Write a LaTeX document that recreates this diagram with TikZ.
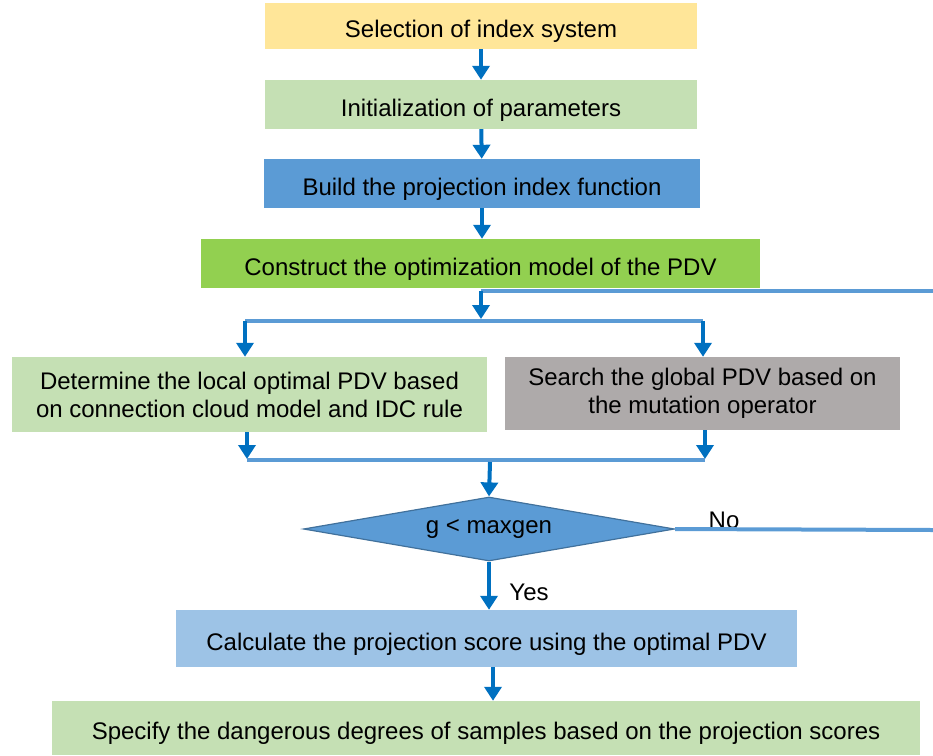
\documentclass[tikz,border=0pt]{standalone}
\usepackage{fontspec}
\setmainfont{Liberation Sans}
\usetikzlibrary{shapes.geometric,arrows.meta}
\definecolor{cYel}{HTML}{FFE699}
\definecolor{cLGreen}{HTML}{C5E0B4}
\definecolor{cBlue}{HTML}{5B9BD5}
\definecolor{cGreen}{HTML}{92D050}
\definecolor{cGray}{HTML}{AEAAAA}
\definecolor{cLBlue}{HTML}{9DC3E6}
\definecolor{cArr}{HTML}{0070C0}
\definecolor{cDiaB}{HTML}{41719C}
\begin{document}
\begin{tikzpicture}[x=1pt,y=-1pt,
  fbox/.style={draw=none,inner sep=0pt,align=center,text=black,
    font=\fontsize{24}{28}\selectfont},
  onel/.style={text height=25pt,text depth=2pt},
  arr/.style={draw=cArr,line width=4pt,-{Triangle[width=17pt,length=14pt]}},
  ln/.style={draw=cBlue,line width=4pt},
  lbl/.style={inner sep=0pt,font=\fontsize{24}{28}\selectfont}]
\useasboundingbox (0,0) rectangle (933,755);
\node[fbox,onel,fill=cYel,minimum width=432pt,minimum height=46pt] (b1) at (481,26) {Selection of index system};
\node[fbox,onel,fill=cLGreen,minimum width=432pt,minimum height=49pt] (b2) at (481,104.5) {Initialization of parameters};
\node[fbox,onel,fill=cBlue,minimum width=436pt,minimum height=49pt] (b3) at (482,183.5) {Build the projection index function};
\node[fbox,onel,fill=cGreen,minimum width=559pt,minimum height=49pt] (b4) at (480.5,263.5) {Construct the optimization model of the PDV};
\node[fbox,fill=cLGreen,minimum width=475pt,minimum height=75pt] (b5) at (249.5,394.5) {Determine the local optimal PDV based\\on connection cloud model and IDC rule};
\node[fbox,fill=cGray,minimum width=395pt,minimum height=73pt] (b6) at (702.5,393.5) {Search the global PDV based on\\the mutation operator};
\node[diamond,draw=cDiaB,line width=1.2pt,fill=cBlue,inner sep=0pt,aspect=5.8,
  minimum width=371pt,minimum height=64pt,font=\fontsize{24}{28}\selectfont] (dia) at (489,529) {g < maxgen};
\node[fbox,onel,fill=cLBlue,minimum width=621pt,minimum height=57pt] (b7) at (486.5,638.5) {Calculate the projection score using the optimal PDV};
\node[fbox,onel,fill=cLGreen,minimum width=868pt,minimum height=54pt] (b8) at (486,728) {Specify the dangerous degrees of samples based on the projection scores};
\node[lbl] (no) at (724,520) {No};
\node[lbl] (yes) at (529,592) {Yes};
% coordinates
\coordinate (s0) at (481,291);
\coordinate (eR1) at (933,291);
\coordinate (s1) at (481,321);
\coordinate (sL) at (245,321);
\coordinate (sR) at (703,321);
\coordinate (mL) at (247,460);
\coordinate (mR) at (705,460);
\coordinate (m0) at (490,462);
\coordinate (eR2) at (933,530);
\coordinate (a7) at (493,670);
% connectors
\draw[arr] (b1) -- (b2);
\draw[arr] (b2) -- (b3);
\draw[arr] (b3.south) -- (b3.south |- b4.north);
\draw[ln] (s0) -- (eR1);
\draw[arr,shorten >=2pt] (s0) -- (s1);
\draw[ln] (sL) -- (sR);
\draw[arr] (sL) -- (sL |- b5.north);
\draw[arr] (sR) -- (sR |- b6.north);
\draw[arr,shorten >=1pt] (b5.south -| mL) -- (mL);
\draw[arr,shorten >=1pt] (b6.south -| mR) -- (mR);
\draw[ln] (mL) -- (mR);
\draw[arr] (m0) -- (dia.north);
\draw[ln] (dia.east) -- (eR2);
\draw[arr] (dia.south) -- (dia.south |- b7.north);
\draw[arr] (b7.south -| a7) -- (b8.north -| a7);
\end{tikzpicture}
\end{document}
